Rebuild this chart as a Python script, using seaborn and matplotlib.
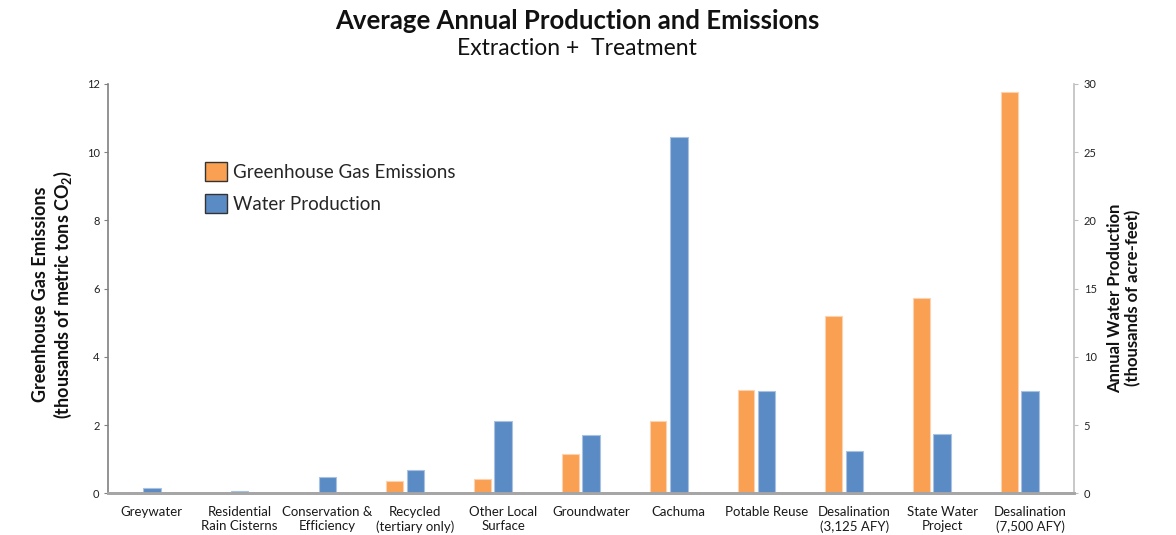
import numpy as np
import pandas as pd
import matplotlib
matplotlib.use("Agg")
import matplotlib.pyplot as plt
import seaborn as sns
from matplotlib.patches import Patch

# ------------------------------
# データ
# ------------------------------
categories = [
    "Greywater", "Residential\nRain Cisterns", "Conservation &\nEfficiency",
    "Recycled\n(tertiary only)", "Other Local\nSurface", "Groundwater",
    "Cachuma", "Potable Reuse", "Desalination\n(3,125 AFY)",
    "State Water\nProject", "Desalination\n(7,500 AFY)",
]
# thousands of metric tons CO2
ghg_emissions = [0.0, 0.0, 0.0, 0.35, 0.41, 1.16, 2.12, 3.04, 5.19, 5.73, 11.77]
# thousands of acre-feet
water_production = [0.37, 0.17, 1.18, 1.69, 5.33, 4.26, 26.1, 7.46, 3.08, 4.33, 7.46]

left_ticks = [0, 2, 4, 6, 8, 10, 12]
right_ticks = [0, 5, 10, 15, 20, 25, 30]

ORANGE = "#F9A052"
BLUE = "#5A8BC4"

sns.set_theme(style="white")
plt.rcParams["font.family"] = ["Lato", "DejaVu Sans"]
plt.rcParams["mathtext.fontset"] = "custom"
plt.rcParams["mathtext.rm"] = "Lato"
plt.rcParams["mathtext.bf"] = "Lato:bold"

pos = np.arange(len(categories))
df = pd.DataFrame({
    "pos": pos,
    "ghg": ghg_emissions,
    "water": water_production,
})
df["ghg_pos"] = df["pos"] - 0.235

fig = plt.figure(figsize=(11.76, 5.35), dpi=100)
ax1 = fig.add_axes([0.0918, 0.078, 0.8214, 0.765])

sns.barplot(data=df, x="ghg_pos", y="ghg", native_scale=True, width=0.19,
            color=ORANGE, saturation=1, edgecolor="#FCD3AE", linewidth=0.8, ax=ax1)
ax2 = ax1.twinx()
sns.barplot(data=df, x="pos", y="water", native_scale=True, width=0.2,
            color=BLUE, saturation=1, edgecolor="#A9C2E0", linewidth=0.8, ax=ax2)

for ax in (ax1, ax2):
    ax.set_xlim(-0.5, len(categories) - 0.5)
    ax.set_xlabel("")
    ax.set_ylabel("")
    ax.grid(False)

ax1.set_ylim(0, 12)
ax2.set_ylim(0, 30)
ax1.set_yticks(left_ticks)
ax2.set_yticks(right_ticks)
ax1.set_xticks(pos)
ax1.set_xticklabels(categories, fontsize=9.5, color="#1a1a1a", linespacing=1.25)
ax1.tick_params(axis="x", length=0, pad=9)
ax1.tick_params(axis="y", direction="out", length=3, width=0.8, color="#808080",
                labelsize=8, labelcolor="#222222", pad=3, left=True)
ax2.tick_params(axis="y", direction="out", length=3, width=0.8, color="#BFBFBF",
                labelsize=8, labelcolor="#222222", pad=4, right=True)

for ax in (ax1, ax2):
    ax.spines["top"].set_visible(False)
    ax.spines["bottom"].set_color("#A6A6A6")
    ax.spines["bottom"].set_linewidth(2)
ax1.spines["left"].set_color("#808080")
ax1.spines["left"].set_linewidth(1.2)
ax1.spines["right"].set_visible(False)
ax2.spines["left"].set_visible(False)
ax2.spines["right"].set_color("#BFBFBF")
ax2.spines["right"].set_linewidth(1.2)

# 軸ラベル
fig.text(0.045, 0.45, "Greenhouse Gas Emissions\n(thousands of metric tons CO$_\\mathbf{2}$)",
         rotation=90, ha="center", va="center", fontsize=13, fontweight="bold",
         linespacing=1.15, color="#111111")
fig.text(0.956, 0.443, "Annual Water Production\n(thousands of acre-feet)",
         rotation=90, ha="center", va="center", fontsize=12, fontweight="bold",
         linespacing=1.2, color="#111111")

# タイトル
fig.text(0.4906, 0.960, "Average Annual Production and Emissions", ha="center",
         va="center", fontsize=18.5, fontweight="bold", color="#111111")
fig.text(0.4906, 0.910, "Extraction +  Treatment", ha="center", va="center",
         fontsize=16.5, color="#111111")

# 凡例
handles = [
    Patch(facecolor=ORANGE, edgecolor="#333333", linewidth=1.0),
    Patch(facecolor=BLUE, edgecolor="#333333", linewidth=1.0),
]
fig.legend(handles, ["Greenhouse Gas Emissions", "Water Production"],
           loc="upper left", bbox_to_anchor=(0.1743, 0.697), frameon=False,
           fontsize=13.5, handlelength=1.17, handleheight=1.17,
           handletextpad=0.32, labelspacing=0.72, borderpad=0, borderaxespad=0)

fig.savefig("out.png", dpi=100)
